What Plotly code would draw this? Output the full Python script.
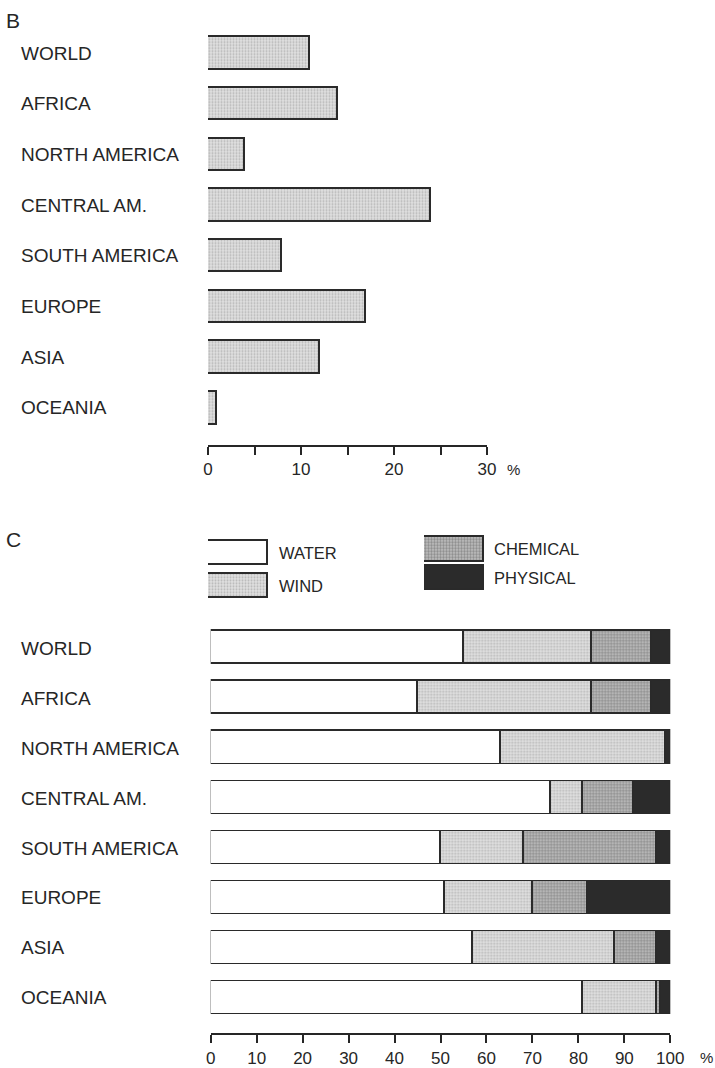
import plotly.graph_objects as go

# ---- data -------------------------------------------------------------
regions = ["WORLD", "AFRICA", "NORTH AMERICA", "CENTRAL AM.",
           "SOUTH AMERICA", "EUROPE", "ASIA", "OCEANIA"]

# panel B: share of land degraded (%)
degraded_pct = [11, 14, 4, 24, 8, 17, 12, 1]

# panel C: causes of degradation (% of degraded land)
water = [55, 45, 63, 74, 50, 51, 57, 81]
wind = [28, 38, 36, 7, 18, 19, 31, 16]
chemical = [13, 13, 0, 11, 29, 12, 9, 1]
physical = [4, 4, 1, 8, 3, 18, 3, 2]

b_ticks = [0, 5, 10, 15, 20, 25, 30]
b_ticktext = ["0", "", "10", "", "20", "", "30"]
c_ticks = [0, 10, 20, 30, 40, 50, 60, 70, 80, 90, 100]
c_ticktext = ["0", "10", "20", "30", "40", "50", "60", "70", "80", "90", "100"]

legend_left = ["WATER", "WIND"]
legend_right = ["CHEMICAL", "PHYSICAL"]

# ---- styling ----------------------------------------------------------
W, H = 715, 1068
FONT = "Liberation Sans, Arial, sans-serif"
INK = "#262626"
EDGE = dict(color="#2a2a2a", width=1.8)


def px_x(p):
    return p / W


def px_y(p):
    return 1 - p / H


styles = {
    "WATER": dict(color="white"),
    "WIND": dict(color="white",
                 pattern=dict(shape=".", fgcolor="#8a8a8a", bgcolor="#e2e2e2",
                              size=3, solidity=0.4)),
    "CHEMICAL": dict(color="white",
                     pattern=dict(shape=".", fgcolor="#555555", bgcolor="#c2c2c2",
                                  size=3, solidity=0.5)),
    "PHYSICAL": dict(color="#2b2b2b"),
}

fig = go.Figure()

# panel B bars
fig.add_trace(go.Bar(
    y=regions, x=degraded_pct, orientation="h", xaxis="x", yaxis="y",
    width=0.64, marker=dict(**styles["WIND"], line=EDGE), showlegend=False,
    hoverinfo="x+y",
))

# panel C stacked bars
for name, vals in [("WATER", water), ("WIND", wind),
                   ("CHEMICAL", chemical), ("PHYSICAL", physical)]:
    fig.add_trace(go.Bar(
        y=regions, x=vals, orientation="h", xaxis="x2", yaxis="y2",
        width=0.66, name=name, marker=dict(**styles[name], line=EDGE),
        showlegend=False,
    ))

# legend swatches (two columns)
for name in legend_left:
    fig.add_trace(go.Bar(y=[name], x=[1], orientation="h", xaxis="x3", yaxis="y3",
                         width=0.75, marker=dict(**styles[name], line=EDGE),
                         showlegend=False, hoverinfo="skip"))
for name in legend_right:
    fig.add_trace(go.Bar(y=[name], x=[1], orientation="h", xaxis="x4", yaxis="y4",
                         width=0.86, marker=dict(**styles[name], line=EDGE),
                         showlegend=False, hoverinfo="skip"))

axis_common = dict(showgrid=False, zeroline=False, showline=True,
                   linecolor=INK, linewidth=1.6, ticks="outside", ticklen=8,
                   tickwidth=1.6, tickcolor=INK, mirror=False, automargin=False,
                   tickfont=dict(family=FONT, size=17, color=INK))
cat_common = dict(type="category", showgrid=False, zeroline=False,
                  showline=False, showticklabels=False, ticks="",
                  automargin=False)

fig.update_layout(
    width=W, height=H, autosize=False,
    margin=dict(l=0, r=0, t=0, b=0, pad=0),
    paper_bgcolor="white", plot_bgcolor="rgba(0,0,0,0)",
    barmode="stack", bargap=0,
    font=dict(family=FONT, color=INK),
    xaxis=dict(**axis_common, domain=[px_x(208), px_x(487)], range=[0, 30],
               anchor="y", tickmode="array", tickvals=b_ticks,
               ticktext=b_ticktext),
    yaxis=dict(**cat_common, domain=[px_y(445), px_y(22.6)],
               range=[7.73, -0.6], anchor="x"),
    xaxis2=dict(**axis_common, domain=[px_x(210.7), px_x(670.3)],
                range=[0, 100], anchor="y2", tickmode="array",
                tickvals=c_ticks, ticktext=c_ticktext),
    yaxis2=dict(**cat_common, domain=[px_y(1033.3), px_y(618.3)],
                range=[7.71, -0.6], anchor="x2"),
    xaxis3=dict(visible=False, domain=[px_x(208), px_x(268)], range=[0, 1],
                anchor="y3"),
    yaxis3=dict(**cat_common, domain=[px_y(601.75), px_y(536.75)],
                range=[1.5, -0.5], anchor="x3"),
    xaxis4=dict(visible=False, domain=[px_x(424), px_x(484)], range=[0, 1],
                anchor="y4"),
    yaxis4=dict(**cat_common, domain=[px_y(591.75), px_y(534.75)],
                range=[1.5, -0.5], anchor="x4"),
)

ann = []
# left-aligned region labels for both panels
for r in regions:
    for yref in ("y", "y2"):
        ann.append(dict(x=px_x(19), xref="paper", y=r, yref=yref, text=r,
                        xanchor="left", yanchor="middle", showarrow=False,
                        font=dict(family=FONT, size=19, color=INK)))

# legend texts
for name in legend_left:
    ann.append(dict(x=px_x(277), xref="paper", y=name, yref="y3", text=name,
                    xanchor="left", yanchor="middle", showarrow=False,
                    font=dict(family=FONT, size=16.5, color=INK)))
for name in legend_right:
    ann.append(dict(x=px_x(492), xref="paper", y=name, yref="y4", text=name,
                    xanchor="left", yanchor="middle", showarrow=False,
                    font=dict(family=FONT, size=16.5, color=INK)))

# percent signs after the last tick labels
ann.append(dict(x=px_x(505), xref="paper", y=px_y(469), yref="paper", text="%",
                xanchor="left", yanchor="middle", showarrow=False,
                font=dict(family=FONT, size=15, color=INK)))
ann.append(dict(x=px_x(698), xref="paper", y=px_y(1057), yref="paper", text="%",
                xanchor="left", yanchor="middle", showarrow=False,
                font=dict(family=FONT, size=15, color=INK)))

# panel letters
ann.append(dict(x=px_x(4), xref="paper", y=px_y(21), yref="paper", text="B",
                xanchor="left", yanchor="middle", showarrow=False,
                font=dict(family=FONT, size=21, color=INK)))
ann.append(dict(x=px_x(4), xref="paper", y=px_y(539), yref="paper", text="C",
                xanchor="left", yanchor="middle", showarrow=False,
                font=dict(family=FONT, size=21, color=INK)))

fig.update_layout(annotations=ann)

# keep the page itself from adding margins or scrollbars around the figure
page_css = (
    "var s=document.createElement('style');"
    "s.innerHTML='html,body{margin:0;padding:0;overflow:hidden;}';"
    "document.head.appendChild(s);"
)
fig.write_html("out.html", post_script=page_css)
